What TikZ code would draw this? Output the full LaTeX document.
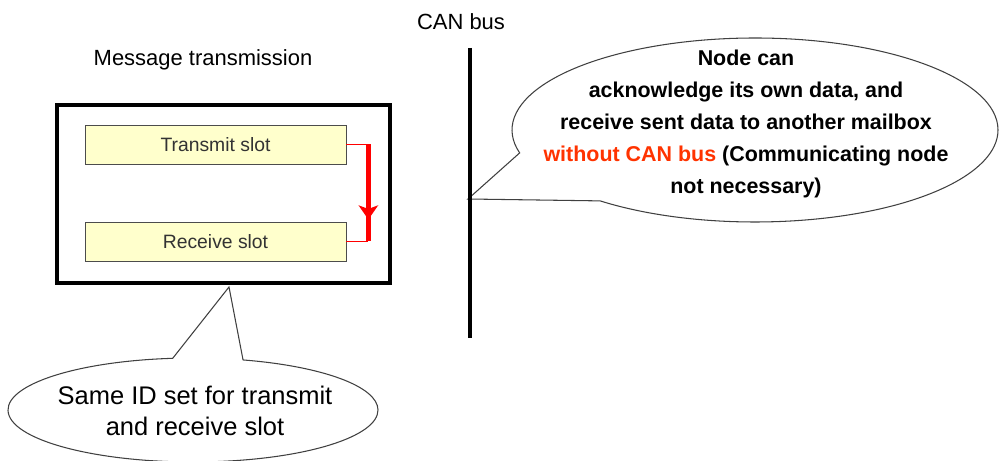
\documentclass[tikz,border=0pt]{standalone}
\usepackage{fontspec}
\setmainfont{Liberation Sans}
\usetikzlibrary{shapes.callouts, arrows.meta}
\definecolor{slotfill}{RGB}{255,255,204}
\definecolor{alertred}{RGB}{255,51,0}
\tikzset{
  slot/.style={rectangle, draw=black!70, fill=slotfill, minimum width=5.22cm, minimum height=0.78cm, text=black!80, font=\fontsize{11}{13}\selectfont},
  bubble/.style={ellipse callout, draw=black!75, line width=0.6pt, fill=white}
}

\begin{document}
\begin{tikzpicture}
  \useasboundingbox (0,0) rectangle (20,-9.22);

  \node (title) at (4.06,-1.2) {\fontsize{12.5}{15}\selectfont Message transmission};
  \node (bus-label) at (9.22,-0.44) {\fontsize{12.5}{15}\selectfont CAN bus};

  \node (msgbox) [rectangle, draw, line width=2.2pt, minimum width=6.66cm, minimum height=3.56cm] at (4.47,-3.88) {};
  \node (tx) [slot] at (4.31,-2.89) {Transmit slot};
  \node (rx) [slot] at (4.31,-4.83) {Receive slot};

  \draw[red, line width=0.9pt] (tx.east) -- ++(0.44,0) coordinate (tx-turn);
  \draw[red, line width=0.9pt] (rx.east) -- ++(0.44,0) coordinate (rx-turn);
  \draw[red, line width=2.8pt] (tx-turn) -- (rx-turn);
  \draw[red, line width=2.8pt, -{Stealth[length=8pt, width=11pt, inset=2pt]}] (tx-turn) -- ++(0,-1.5);

  \coordinate (bus-top) at (9.4,-0.96);
  \coordinate (bus-bottom) at (9.4,-6.76);
  \coordinate (bus-tap) at (9.36,-3.98);
  \node (ack-note) [bubble, minimum width=9.72cm, minimum height=3.68cm, callout absolute pointer={(bus-tap)}, callout pointer arc=36] at (15.1,-2.6) {};
  \node (ack-text) [align=center, font=\bfseries\fontsize{12.2}{18.2}\selectfont] at (14.92,-2.47) {Node can\\ acknowledge its own data, and\\ receive sent data to another mailbox\\ \textcolor{alertred}{without CAN bus} (Communicating node\\ not necessary)};
  \draw[line width=2.3pt] (bus-top) -- (bus-bottom);

  \coordinate (id-tip) at (4.58,-5.74);
  \node (id-note) [bubble, minimum width=7.4cm, minimum height=2.08cm, callout absolute pointer={(id-tip)}, callout pointer arc=22] at (3.86,-8.2) {};
  \node (id-text) [align=center, font=\fontsize{14.5}{18}\selectfont] at (3.9,-8.22) {Same ID set for transmit\\ and receive slot};
\end{tikzpicture}
\end{document}
